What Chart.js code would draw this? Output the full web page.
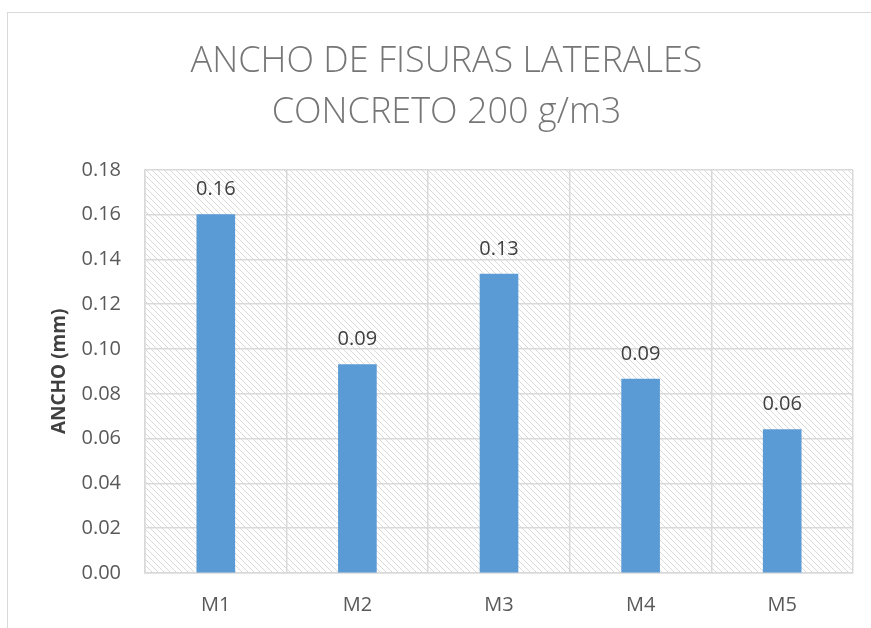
<!DOCTYPE html>
<html>
<head>
<meta charset="utf-8">
<script src="https://cdn.jsdelivr.net/npm/chart.js@4"></script>
<style>
  html, body { margin: 0; padding: 0; background: #fff; overflow: hidden; }
  #frame { position: absolute; left: 7px; top: 12px; width: 900px; height: 700px;
           border-top: 1.5px solid #d9d9d9; border-left: 1.5px solid #d9d9d9; }
  #wrap { position: absolute; left: 0; top: 0; width: 871px; height: 628px; }
</style>
</head>
<body>
<div id="frame"></div>
<div id="wrap"><canvas id="fisChart" width="871" height="628"></canvas></div>
<script>
// Data
const categories = ['M1', 'M2', 'M3', 'M4', 'M5'];
const anchoValues = [0.160, 0.093, 0.1335, 0.0866, 0.064];
const yTicks = [0, 0.02, 0.04, 0.06, 0.08, 0.10, 0.12, 0.14, 0.16, 0.18];

// Hatch pattern for plot background
function makeHatch() {
  const c = document.createElement('canvas');
  c.width = 6; c.height = 6;
  const g = c.getContext('2d');
  g.fillStyle = '#ffffff';
  g.fillRect(0, 0, 6, 6);
  g.strokeStyle = '#dadada';
  g.lineWidth = 1;
  g.beginPath();
  g.moveTo(-1, -1); g.lineTo(7, 7);
  g.moveTo(-1, 5); g.lineTo(1, 7);
  g.moveTo(5, -1); g.lineTo(7, 1);
  g.stroke();
  return g.createPattern(c, 'repeat');
}

const hatchBg = {
  id: 'hatchBg',
  beforeDraw(chart) {
    const { ctx, chartArea: a } = chart;
    ctx.save();
    ctx.fillStyle = makeHatch();
    ctx.fillRect(a.left, a.top, a.right - a.left, a.bottom - a.top);
    ctx.restore();
  }
};

// Value labels above bars
const valueLabels = {
  id: 'valueLabels',
  afterDatasetsDraw(chart) {
    const { ctx } = chart;
    const meta = chart.getDatasetMeta(0);
    ctx.save();
    ctx.font = '20px "Open Sans"';
    ctx.fillStyle = '#404040';
    ctx.textAlign = 'center';
    ctx.textBaseline = 'middle';
    meta.data.forEach((bar, i) => {
      ctx.fillText(anchoValues[i].toFixed(2), bar.x, bar.y - 25);
    });
    ctx.restore();
  }
};

const ctx = document.getElementById('fisChart').getContext('2d');
const fisChart = new Chart(ctx, {
  type: 'bar',
  data: {
    labels: categories,
    datasets: [{
      data: anchoValues,
      backgroundColor: '#5b9bd5',
      barThickness: 38
    }]
  },
  options: {
    responsive: false,
    animation: false,
    layout: { padding: { left: 40, right: 18, top: 0, bottom: 0 } },
    plugins: {
      legend: { display: false },
      tooltip: { enabled: false },
      title: {
        display: true,
        text: ['ANCHO DE FISURAS LATERALES', 'CONCRETO 200 g/m3'],
        color: '#767676',
        font: { family: '"Open Sans"', size: 36, weight: '300', lineHeight: 1.4 },
        padding: { top: 37, bottom: 32 }
      }
    },
    scales: {
      x: {
        grid: { color: '#d9d9d9', lineWidth: 1.5, drawTicks: false, offset: true },
        border: { color: '#d9d9d9', width: 1.5 },
        ticks: { color: '#595959', font: { family: '"Open Sans"', size: 20 }, padding: 20 },
        afterFit(s) { s.height = 55; }
      },
      y: {
        min: 0,
        max: 0.18,
        afterBuildTicks(s) { s.ticks = yTicks.map(v => ({ value: v })); },
        grid: { color: '#d9d9d9', lineWidth: 1.5, drawTicks: false },
        border: { color: '#d9d9d9', width: 1.5 },
        ticks: {
          color: '#595959',
          font: { family: '"Open Sans"', size: 20 },
          padding: 24,
          callback: v => Number(v).toFixed(2)
        },
        title: {
          display: true,
          text: 'ANCHO (mm)',
          color: '#404040',
          font: { family: '"Open Sans"', size: 19, weight: 'bold' },
          padding: { top: 8, bottom: 0 }
        },
        afterFit(s) { s.width = 105; }
      }
    }
  },
  plugins: [hatchBg, valueLabels]
});
</script>
</body>
</html>
